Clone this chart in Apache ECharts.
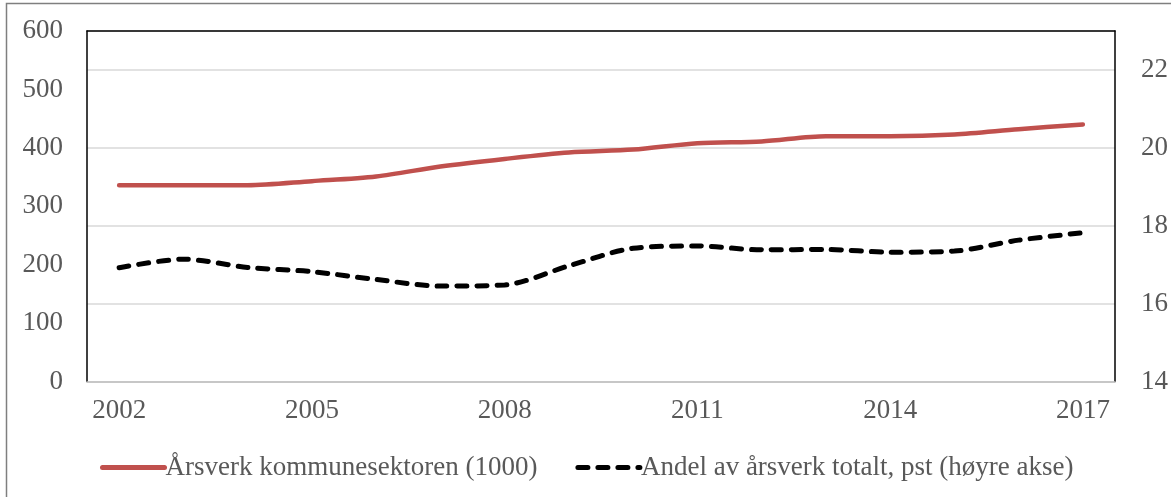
<!DOCTYPE html>
<html>
<head>
<meta charset="utf-8">
<script src="https://cdn.jsdelivr.net/npm/echarts@6/dist/echarts.min.js"></script>
<style>
  html, body { margin: 0; padding: 0; background: #fff; }
  #chart { width: 1171px; height: 497px; }
</style>
</head>
<body>
<div id="chart"></div>
<script>
const years = ['2002', '2003', '2004', '2005', '2006', '2007', '2008', '2009',
  '2010', '2011', '2012', '2013', '2014', '2015', '2016', '2017']
// årsverk i kommunesektoren, 1000 (venstre akse)
const aarsverk = [336, 336, 336, 343, 351, 368, 381, 392, 397, 408, 411, 420, 420, 423, 432, 440]
// andel av årsverk totalt, pst (høyre akse)
const andel = [16.92, 17.14, 16.93, 16.82, 16.62, 16.45, 16.48, 16.97, 17.42, 17.48, 17.38, 17.39, 17.32, 17.35, 17.63, 17.82]
const leftTicks = { min: 0, max: 600, interval: 100 }
const rightTicks = { min: 14, max: 23, interval: 2 }

const font = 'Liberation Serif'
const textColor = '#595959'

const chart = echarts.init(document.getElementById('chart'))
chart.setOption({
  animation: false,
  textStyle: { fontFamily: font },
  graphic: [
    {
      type: 'rect',
      shape: { x: 6.5, y: 3.5, width: 1300, height: 700 },
      style: { fill: 'none', stroke: '#7f7f7f', lineWidth: 1.5 },
      silent: true,
    },
  ],
  grid: {
    left: 87,
    right: 56,
    top: 31,
    bottom: 115.5,
  },
  legend: {
    left: 100,
    top: 454,
    padding: 0,
    itemWidth: 62,
    itemHeight: 14,
    itemGap: 38,
    itemStyle: { opacity: 0 },
    lineStyle: { width: 5 },
    textStyle: { fontFamily: font, fontSize: 27, color: textColor, padding: [0, 0, 0, -4] },
    data: ['Årsverk kommunesektoren (1000)', 'Andel av årsverk totalt, pst (høyre akse)'],
  },
  xAxis: [
    {
      type: 'category',
      data: years,
      axisLine: { lineStyle: { color: '#bfbfbf', width: 1.5 } },
      axisTick: { interval: 0, length: 7, lineStyle: { color: '#bfbfbf', width: 1.5 } },
      axisLabel: { interval: 2, margin: 16, fontSize: 27, color: textColor, fontFamily: font },
    },
    {
      // top border of the plot
      type: 'category',
      position: 'top',
      data: years,
      axisLine: { lineStyle: { color: '#000', width: 1.5 } },
      axisTick: { show: false },
      axisLabel: { show: false },
    },
  ],
  yAxis: [
    {
      type: 'value',
      min: leftTicks.min,
      max: leftTicks.max,
      interval: leftTicks.interval,
      axisLine: { show: true, lineStyle: { color: '#000', width: 1.5 } },
      axisTick: { show: false },
      splitLine: { show: false },
      axisLabel: { margin: 24, fontSize: 27, color: textColor, fontFamily: font },
    },
    {
      type: 'value',
      position: 'right',
      min: rightTicks.min,
      max: rightTicks.max,
      interval: rightTicks.interval,
      axisLine: { show: true, lineStyle: { color: '#000', width: 1.5 } },
      axisTick: { show: false },
      splitLine: { lineStyle: { color: '#d9d9d9', width: 1.5 } },
      axisLabel: { margin: 26, fontSize: 27, color: textColor, fontFamily: font, showMaxLabel: false },
    },
  ],
  series: [
    {
      name: 'Årsverk kommunesektoren (1000)',
      type: 'line',
      data: aarsverk,
      yAxisIndex: 0,
      smooth: 0.3,
      symbol: 'none',
      lineStyle: { color: '#c0504d', width: 4.5, cap: 'round' },
      itemStyle: { color: '#c0504d' },
    },
    {
      name: 'Andel av årsverk totalt, pst (høyre akse)',
      type: 'line',
      data: andel,
      yAxisIndex: 1,
      smooth: 0.3,
      symbol: 'none',
      lineStyle: { color: '#000', width: 5, type: [10, 10], cap: 'round' },
      itemStyle: { color: '#000' },
    },
  ],
})
</script>
</body>
</html>
